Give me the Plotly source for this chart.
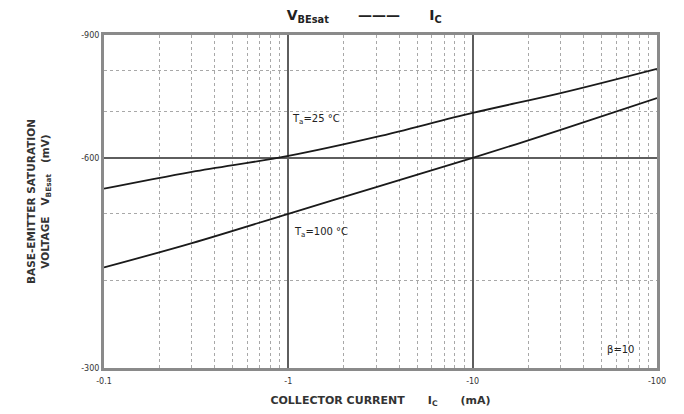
import plotly.graph_objects as go
import math

# Collector current (mA, PNP -> negative)
ic_ma = [-0.1, -0.3, -1, -3, -10, -30, -100]
# Base-emitter saturation voltage (mV)
vbe_25 = [-542, -573, -604, -643, -696, -743, -805]
vbe_100 = [-418, -453, -499, -545, -600, -658, -731]

x_ticks = [-0.1, -1, -10, -100]
x_tick_labels = ["-0.1", "-1", "-10", "-100"]
y_ticks = [-300, -600, -900]
y_tick_labels = ["-300", "-600", "-900"]
y_minor = [-400, -500, -700, -800]

FONT = "DejaVu Sans"
fig = go.Figure()
for vals in (vbe_25, vbe_100):
    fig.add_trace(go.Scatter(
        x=[abs(v) for v in ic_ma], y=[abs(v) for v in vals],
        mode="lines", line=dict(color="#1a1a1a", width=1.8, shape="spline"),
        showlegend=False, hoverinfo="skip"))

x_minor = []
for dec in (0.1, 1, 10):
    x_minor += [dec * k for k in range(2, 10)]

fig.update_xaxes(
    type="log", range=[-1, 2], automargin=False,
    tickvals=[abs(v) for v in x_ticks], ticktext=x_tick_labels,
    showgrid=True, gridcolor="#5e5e5e", gridwidth=2,
    showline=True, mirror=True, linecolor="#8a8a8a", linewidth=3,
    ticks="", ticklabelstandoff=3,
    tickfont=dict(family=FONT, size=8, color="#333"),
    minor=dict(tickvals=x_minor, showgrid=True, gridcolor="#a8a8a8",
               griddash="dot", gridwidth=1, ticks=""),
    zeroline=False,
    title=dict(text="<b>COLLECTOR CURRENT      I<sub>C</sub>      (mA)</b>",
               font=dict(family=FONT, size=11, color="#333"), standoff=12),
)
fig.update_yaxes(
    type="log", range=[math.log10(300), math.log10(900)], automargin=False,
    tickvals=[abs(v) for v in y_ticks], ticktext=y_tick_labels,
    showgrid=True, gridcolor="#5e5e5e", gridwidth=2,
    showline=True, mirror=True, linecolor="#8a8a8a", linewidth=3,
    ticks="", tickfont=dict(family=FONT, size=8, color="#333"),
    minor=dict(tickvals=[abs(v) for v in y_minor], showgrid=True,
               gridcolor="#a8a8a8", griddash="dot", gridwidth=1, ticks=""),
    zeroline=False,
    title=dict(text="<b>BASE-EMITTER SATURATION</b><br><b>VOLTAGE   V<sub>BEsat</sub>   (mV)</b>",
               font=dict(family=FONT, size=10.5, color="#333"), standoff=30),
)

fig.add_annotation(x=0.01, y=2.833, xref="x", yref="y", xanchor="left",
                   text="T<sub>a</sub>=25 °C", showarrow=False,
                   font=dict(family=FONT, size=10, color="#222"))
fig.add_annotation(x=0.02, y=2.671, xref="x", yref="y", xanchor="left",
                   text="T<sub>a</sub>=100 °C", showarrow=False,
                   font=dict(family=FONT, size=10, color="#222"))
fig.add_annotation(x=1.72, y=2.503, xref="x", yref="y", xanchor="left",
                   text="β=10", showarrow=False,
                   font=dict(family=FONT, size=10, color="#222"))

fig.update_layout(
    width=676, height=406,
    margin=dict(l=96, r=27, t=27, b=46, autoexpand=False),
    paper_bgcolor="white", plot_bgcolor="white",
    title=dict(text="<b>V<sub>BEsat</sub>      ———      I<sub>C</sub></b>",
               x=0.527, xanchor="center", y=0.982, yanchor="middle",
               font=dict(family=FONT, size=14, color="#222")),
)
fig.write_html("out.html")
